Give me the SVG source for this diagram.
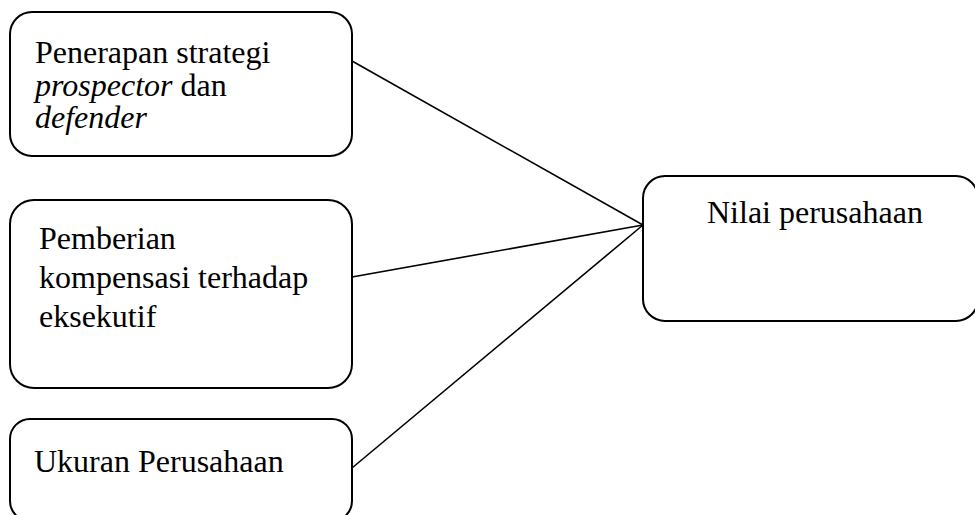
<svg xmlns="http://www.w3.org/2000/svg" width="975" height="515" viewBox="0 0 975 515">
<style>
.box{fill:#fff;stroke:#000;stroke-width:2}
.t{font-family:"Liberation Serif","Times New Roman",serif;font-size:32px;fill:#000}
.i{font-style:italic}
.c{stroke:#000;stroke-width:1.6;fill:none}
</style>
<rect width="975" height="515" fill="#fff"/>
<g id="connectors">
<line class="c" x1="352" y1="61" x2="643" y2="225"/>
<line class="c" x1="352" y1="277" x2="643" y2="225"/>
<line class="c" x1="352" y1="468" x2="643" y2="225"/>
</g>
<g id="node-strategi">
<rect class="box" x="10" y="12" width="342" height="144" rx="22"/>
<text class="t" x="35" y="63">Penerapan strategi</text>
<text class="t" x="35" y="96"><tspan class="i">prospector</tspan> dan</text>
<text class="t i" x="35" y="128">defender</text>
</g>
<g id="node-kompensasi">
<rect class="box" x="10" y="200" width="342" height="188" rx="24"/>
<text class="t" x="39" y="249">Pemberian</text>
<text class="t" x="39" y="288">kompensasi terhadap</text>
<text class="t" x="39" y="327">eksekutif</text>
</g>
<g id="node-ukuran">
<rect class="box" x="10" y="419" width="342" height="102" rx="20"/>
<text class="t" x="34" y="472">Ukuran Perusahaan</text>
</g>
<g id="node-nilai">
<rect class="box" x="643" y="176" width="335" height="145" rx="22"/>
<text class="t" x="707" y="223">Nilai perusahaan</text>
</g>
</svg>
